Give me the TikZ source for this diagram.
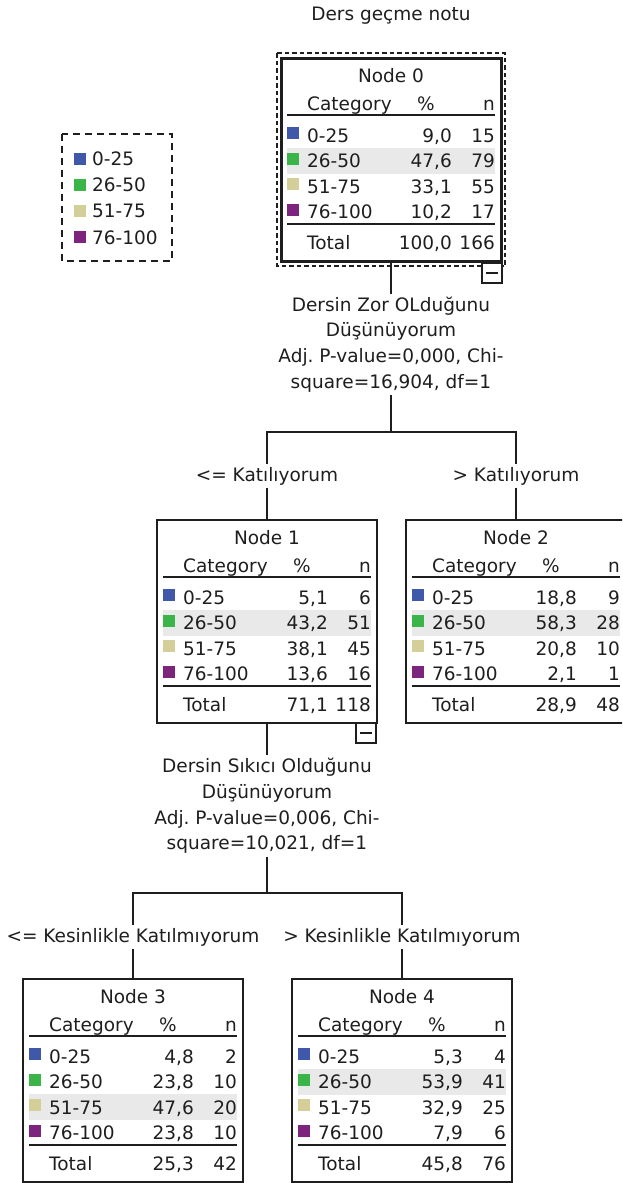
\documentclass[tikz,border=0pt]{standalone}
\usepackage{fontspec}
\setmainfont{DejaVu Sans}
\frenchspacing
\definecolor{cblue}{HTML}{3F58AA}
\definecolor{cgreen}{HTML}{3BB54A}
\definecolor{ctan}{HTML}{D4CE98}
\definecolor{cpurple}{HTML}{7D247F}
\definecolor{hlgray}{HTML}{E9E9E9}
\definecolor{ink}{HTML}{1E1E1E}
\newcommand{\tabframe}[5]{%
  \fill[hlgray] (6,{77+25.5*(#5-1)-13}) rectangle (214,{77+25.5*(#5-1)+13});
  \node[txt, anchor=base] (#1-title) at (110,24) {#2};
  \node[txt, anchor=base west] (#1-cat) at (26,52) {Category};
  \node[txt, anchor=base] (#1-pc) at (145,52) {\%};
  \node[txt, anchor=base east] (#1-n) at (214,52) {n};
  \draw[tabrule] (6,57) -- (214,57);
  \draw[tabrule] (6,166) -- (214,166);
  \node[txt, anchor=base west] (#1-tot) at (26,191) {Total};
  \node[txt, anchor=base east] (#1-totp) at (171,191) {#3};
  \node[txt, anchor=base east] (#1-totn) at (214,191) {#4};
}
\newcommand{\crow}[6]{%
  \fill[#3] (6,{77+25.5*(#2-1)-8}) rectangle (18,{77+25.5*(#2-1)+4});
  \node[txt, anchor=base west] (#1-l#2) at (26,{84+25.5*(#2-1)}) {#4};
  \node[txt, anchor=base east] (#1-p#2) at (171,{84+25.5*(#2-1)}) {#5};
  \node[txt, anchor=base east] (#1-n#2) at (214,{84+25.5*(#2-1)}) {#6};
}
\begin{document}
\begin{tikzpicture}[x=1pt, y=-1pt,
  txt/.style={font=\fontsize{18.5}{25.7}\selectfont, text=ink, inner sep=0pt},
  boxframe/.style={draw=ink, line width=1.2pt, minimum width=220pt, minimum height=203pt, inner sep=0pt, outer sep=0pt, anchor=north west},
  tabrule/.style={draw=ink, line width=1.5pt},
  link/.style={draw=ink, line width=1.2pt},
  collapse/.style={draw=ink, fill=white, line width=1.2pt, minimum size=20pt, inner sep=0pt, outer sep=0pt, anchor=north east},
  splitlbl/.style={txt, align=center, inner ysep=3pt},
  branchlbl/.style={txt, inner ysep=2.5pt},
  legendframe/.style={draw=ink, line width=1.2pt, dash pattern=on 7pt off 5pt},
  selframe/.style={draw=ink, line width=1.2pt, dash pattern=on 4.5pt off 3pt}]
\useasboundingbox (0,0) rectangle (622,1183);
\clip (0,0) rectangle (622,1183);

\node[txt] (title) at (391,16) {Ders geçme notu};

% legend
\draw[legendframe] (62,134) rectangle (172,261);
\foreach \c/\t [count=\i] in {cblue/0-25, cgreen/26-50, ctan/51-75, cpurple/76-100} {
  \fill[\c] (74,{158.5+26.2*(\i-1)-6}) rectangle (86,{158.5+26.2*(\i-1)+6});
  \node[txt, anchor=base west] (leg\i) at (92,{158.5+26.2*(\i-1)+7}) {\t};
}

% node 0
\draw[selframe] (277,53) rectangle (505,266);
\node[boxframe, line width=3pt] (n0) at (281,58) {};
\begin{scope}[shift={(281,58)}]
  \tabframe{n0}{Node 0}{100,0}{166}{2}
  \crow{n0}{1}{cblue}{0-25}{9,0}{15}
  \crow{n0}{2}{cgreen}{26-50}{47,6}{79}
  \crow{n0}{3}{ctan}{51-75}{33,1}{55}
  \crow{n0}{4}{cpurple}{76-100}{10,2}{17}
\end{scope}
\node[collapse] (c0) at (502,263) {};
\draw[link] ([xshift=-6pt]c0.center) -- ([xshift=6pt]c0.center);

\node[splitlbl] (s0) at (391,344.5) {Dersin Zor OLduğunu\\Düşünüyorum\\Adj. P-value=0,000, Chi-\\square=16,904, df=1};
\draw[link] (n0) -- (s0);
\coordinate (j0) at (391,432);
\draw[link] (s0) -- (j0);
\node[branchlbl] (l1) at (267,476) {<= Katılıyorum};
\node[branchlbl] (l2) at (516,476) {> Katılıyorum};
\draw[link] (l1) |- (j0) -| (l2);

% node 1
\node[boxframe] (n1) at (157,520) {};
\begin{scope}[shift={(157,520)}]
  \tabframe{n1}{Node 1}{71,1}{118}{2}
  \crow{n1}{1}{cblue}{0-25}{5,1}{6}
  \crow{n1}{2}{cgreen}{26-50}{43,2}{51}
  \crow{n1}{3}{ctan}{51-75}{38,1}{45}
  \crow{n1}{4}{cpurple}{76-100}{13,6}{16}
\end{scope}
\draw[link] (l1) -- (n1);
\node[collapse] (c1) at (376,723) {};
\draw[link] ([xshift=-6pt]c1.center) -- ([xshift=6pt]c1.center);

% node 2
\node[boxframe] (n2) at (406,520) {};
\begin{scope}[shift={(406,520)}]
  \tabframe{n2}{Node 2}{28,9}{48}{2}
  \crow{n2}{1}{cblue}{0-25}{18,8}{9}
  \crow{n2}{2}{cgreen}{26-50}{58,3}{28}
  \crow{n2}{3}{ctan}{51-75}{20,8}{10}
  \crow{n2}{4}{cpurple}{76-100}{2,1}{1}
\end{scope}
\draw[link] (l2) -- (n2);

\node[splitlbl] (s1) at (267,806) {Dersin Sıkıcı Olduğunu\\Düşünüyorum\\Adj. P-value=0,006, Chi-\\square=10,021, df=1};
\draw[link] (n1) -- (s1);
\coordinate (j1) at (267,893);
\draw[link] (s1) -- (j1);
\node[branchlbl] (l3) at (133,937) {<= Kesinlikle Katılmıyorum};
\node[branchlbl] (l4) at (402,937) {> Kesinlikle Katılmıyorum};
\draw[link] (l3) |- (j1) -| (l4);

% node 3
\node[boxframe] (n3) at (23,979) {};
\begin{scope}[shift={(23,979)}]
  \tabframe{n3}{Node 3}{25,3}{42}{3}
  \crow{n3}{1}{cblue}{0-25}{4,8}{2}
  \crow{n3}{2}{cgreen}{26-50}{23,8}{10}
  \crow{n3}{3}{ctan}{51-75}{47,6}{20}
  \crow{n3}{4}{cpurple}{76-100}{23,8}{10}
\end{scope}
\draw[link] (l3) -- (n3);

% node 4
\node[boxframe] (n4) at (292,979) {};
\begin{scope}[shift={(292,979)}]
  \tabframe{n4}{Node 4}{45,8}{76}{2}
  \crow{n4}{1}{cblue}{0-25}{5,3}{4}
  \crow{n4}{2}{cgreen}{26-50}{53,9}{41}
  \crow{n4}{3}{ctan}{51-75}{32,9}{25}
  \crow{n4}{4}{cpurple}{76-100}{7,9}{6}
\end{scope}
\draw[link] (l4) -- (n4);
\end{tikzpicture}
\end{document}
